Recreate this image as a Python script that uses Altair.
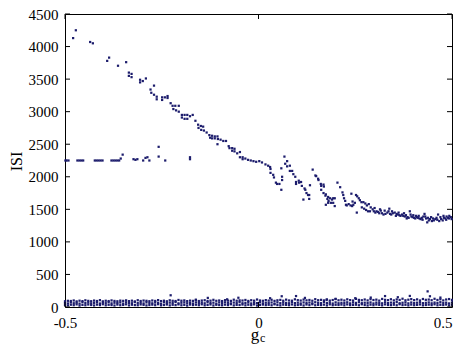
import altair as alt
import pandas as pd
import numpy as np

# ---- data ----
upper_branch = [
    (-0.479, 4130), (-0.472, 4250), (-0.435, 4070), (-0.428, 4050),
    (-0.391, 3780), (-0.386, 3830), (-0.363, 3705), (-0.342, 3760),
    (-0.335, 3600), (-0.328, 3580), (-0.335, 3550), (-0.328, 3530),
    (-0.306, 3490), (-0.299, 3470), (-0.291, 3510), (-0.306, 3450),
    (-0.270, 3400), (-0.279, 3340), (-0.277, 3290), (-0.270, 3260),
    (-0.263, 3230), (-0.263, 3190), (-0.249, 3220), (-0.242, 3220),
    (-0.235, 3240), (-0.235, 3210), (-0.249, 3180), (-0.227, 3130),
    (-0.222, 3090), (-0.215, 3090), (-0.206, 3090), (-0.220, 3040),
    (-0.213, 3020), (-0.206, 3000), (-0.198, 2950), (-0.191, 2950),
    (-0.184, 2950), (-0.170, 2950), (-0.198, 2910), (-0.191, 2890),
    (-0.184, 2890), (-0.177, 2930), (-0.163, 2860), (-0.156, 2800),
    (-0.149, 2780), (-0.143, 2770), (-0.155, 2750), (-0.148, 2720),
    (-0.141, 2710), (-0.134, 2680), (-0.127, 2640), (-0.120, 2630),
    (-0.113, 2620), (-0.106, 2620), (-0.125, 2600), (-0.120, 2590),
    (-0.113, 2590), (-0.105, 2580), (-0.106, 2500), (-0.098, 2570),
    (-0.091, 2550), (-0.084, 2550), (-0.077, 2470), (-0.075, 2440),
    (-0.068, 2440), (-0.062, 2430), (-0.068, 2400), (-0.062, 2390),
    (-0.055, 2360), (-0.048, 2380), (-0.048, 2300), (-0.041, 2300),
    (-0.041, 2270), (-0.034, 2280), (-0.027, 2260), (-0.020, 2250),
    (-0.013, 2240), (-0.006, 2230), (0.002, 2240), (0.009, 2220),
    (0.018, 2190), (0.025, 2170), (0.030, 2150), (0.031, 2120),
    (0.031, 2060), (0.038, 2030), (0.040, 1990), (0.045, 1910),
    (0.048, 1890), (0.054, 1890), (0.059, 1800), (0.061, 1950),
    (0.061, 2000), (0.059, 2130), (0.067, 2310), (0.074, 2240),
    (0.069, 2200), (0.074, 2160), (0.081, 2170), (0.081, 2090),
    (0.087, 2090), (0.090, 2040), (0.095, 2000), (0.097, 1920),
    (0.097, 1890), (0.104, 1940), (0.110, 1920), (0.105, 1910),
    (0.112, 1860), (0.119, 1820), (0.121, 1800), (0.116, 1650),
    (0.124, 1750), (0.128, 1720), (0.131, 1720), (0.133, 1870),
    (0.131, 1660), (0.140, 2110), (0.147, 2020), (0.149, 2010),
    (0.154, 1970), (0.155, 1950), (0.161, 1890), (0.162, 1860),
    (0.168, 1880), (0.169, 1850), (0.162, 1800), (0.168, 1750),
    (0.174, 1730), (0.178, 1660), (0.180, 1600), (0.173, 1710),
    (0.180, 1690), (0.185, 1670), (0.190, 1650), (0.193, 1670),
    (0.197, 1670), (0.181, 1630), (0.187, 1600), (0.193, 1600),
    (0.197, 1550), (0.174, 1570), (0.204, 1910), (0.211, 1840),
    (0.217, 1760), (0.219, 1720), (0.221, 1670), (0.224, 1630),
    (0.226, 1570), (0.233, 1580), (0.238, 1560), (0.242, 1550),
    (0.245, 1570), (0.243, 1620), (0.249, 1600), (0.240, 1740),
    (0.252, 1720), (0.255, 1700), (0.259, 1670), (0.262, 1640),
    (0.266, 1610), (0.254, 1450), (0.228, 1560), (0.267, 1530),
    (0.271, 1610), (0.276, 1590), (0.280, 1560), (0.285, 1580),
    (0.273, 1510), (0.278, 1490), (0.283, 1470), (0.288, 1470),
    (0.290, 1530), (0.295, 1500), (0.298, 1470), (0.302, 1450),
    (0.305, 1470), (0.309, 1460), (0.312, 1440), (0.316, 1480),
    (0.319, 1440), (0.323, 1420), (0.328, 1430), (0.333, 1450),
    (0.336, 1470), (0.338, 1510), (0.340, 1430), (0.343, 1420),
    (0.347, 1440), (0.352, 1450), (0.357, 1430), (0.360, 1420),
    (0.364, 1410), (0.367, 1400), (0.371, 1420), (0.374, 1400),
    (0.378, 1390), (0.381, 1410), (0.385, 1380), (0.388, 1370),
    (0.391, 1470), (0.395, 1390), (0.398, 1380), (0.402, 1370),
    (0.405, 1360), (0.409, 1380), (0.412, 1370), (0.416, 1360),
    (0.419, 1350), (0.422, 1370), (0.426, 1390), (0.429, 1430),
    (0.433, 1360), (0.436, 1300), (0.440, 1330), (0.443, 1350),
    (0.448, 1320), (0.453, 1330), (0.457, 1350), (0.460, 1370),
    (0.464, 1420), (0.467, 1320), (0.472, 1350), (0.476, 1330),
    (0.479, 1370), (0.483, 1360), (0.486, 1390), (0.490, 1370),
    (0.493, 1400), (0.497, 1380),
    (0.300, 1520), (0.314, 1500), (0.326, 1480), (0.345, 1470),
    (0.355, 1400), (0.362, 1450), (0.376, 1440), (0.383, 1360),
    (0.393, 1420), (0.400, 1410), (0.407, 1400), (0.414, 1400),
    (0.424, 1340), (0.431, 1390), (0.438, 1370), (0.446, 1380),
    (0.451, 1360), (0.462, 1340), (0.470, 1380), (0.478, 1400),
    (0.485, 1340), (0.492, 1360), (0.499, 1350),
]

flat_branch = [
    (-0.499, 2250), (-0.496, 2250), (-0.491, 2250),
    (-0.468, 2250), (-0.463, 2250), (-0.458, 2250), (-0.453, 2250),
    (-0.423, 2250), (-0.418, 2250), (-0.413, 2250), (-0.408, 2250), (-0.403, 2250),
    (-0.380, 2250), (-0.375, 2250), (-0.370, 2250), (-0.365, 2250), (-0.360, 2250),
    (-0.356, 2280), (-0.351, 2340),
    (-0.323, 2270), (-0.318, 2260), (-0.313, 2270),
    (-0.298, 2250), (-0.292, 2290), (-0.287, 2300), (-0.282, 2250),
    (-0.258, 2460), (-0.258, 2310), (-0.241, 2250),
    (-0.177, 2270), (-0.177, 2300),
]

band_low = [
    30, 25, 35, 28, 40, 22, 33, 27, 38, 31, 24, 36, 29, 42, 26, 34, 30, 23, 37, 28,
    32, 41, 25, 35, 29, 27, 39, 33, 24, 30, 36, 28, 43, 26, 31, 38, 25, 34, 29, 40,
    27, 33, 22, 37, 30, 35, 28, 41, 26, 32, 39, 24, 34, 30, 27, 36, 29, 42, 25, 33,
    31, 38, 26, 35, 28, 40, 23, 32, 37, 29, 34, 27, 41, 30, 25, 36, 33, 28, 39, 26,
    31, 35, 24, 38, 29, 42, 27, 33, 30, 36, 25, 40, 28, 34, 31, 37, 26, 39, 29, 32,
    35, 27, 41, 30, 24, 36, 28, 38, 33, 26, 40, 31, 29, 35, 27, 42, 30, 34, 25, 37,
    28, 33, 39, 26, 31, 36, 29, 41, 27, 34, 30, 38, 25, 35,
]
band_mid = [
    62, 55, 70, 58, 66, 52, 74, 60, 68, 57, 64, 71, 54, 67, 59, 73, 56, 65, 61, 69,
    53, 72, 63, 58, 75, 60, 66, 55, 70, 62, 57, 68, 64, 51, 73, 59, 67, 61, 76, 56,
    65, 70, 58, 63, 54, 71, 60, 67, 57, 74, 62, 66, 53, 69, 59, 72, 64, 56, 68, 61,
    75, 58, 63, 70, 55, 66, 60, 73, 57, 65, 62, 69, 54, 71, 59, 67, 63, 58, 74, 60,
    66, 55, 70, 61, 68, 57, 73, 64, 59, 76, 62, 67, 54, 71, 58, 65, 60, 72, 56, 69,
    63, 74, 59, 66, 61, 70, 55, 68, 64, 57, 73, 60, 67, 62, 75, 58, 65, 71, 56, 69,
    61, 66, 72, 59, 64, 70, 57, 68, 63, 74, 60, 67, 55, 71,
]
band_high = [
    88, 95, 92, 100, 86, 97, 90, 103, 94, 89, 99, 92, 105, 87, 96, 91, 101, 93, 88, 98,
    94, 102, 90, 97, 86, 104, 92, 99, 95, 89, 100, 93, 106, 91, 97, 88, 103, 95, 92, 108,
    96, 101, 90, 98, 94, 107, 92, 99, 104, 93, 97, 110, 95, 100, 91, 105, 98, 94, 112, 96,
    102, 99, 108, 93, 104, 97, 115, 100, 95, 106, 98, 111, 94, 103, 109, 96, 113, 100, 97, 118,
    105, 99, 114, 102, 108, 96, 120, 104, 110, 101, 116, 98, 107, 122, 103, 112, 100, 118, 106, 99,
    125, 109, 104, 115, 101, 120, 107, 113, 98, 124, 110, 105, 119, 102, 116, 108, 127, 103, 112, 121,
    106, 117, 100, 123, 110, 114, 104, 126, 108, 119, 101, 115, 122, 109,
]
# sweep grid of the coupling parameter used by the low band
band_x = np.linspace(-0.5, 0.5, len(band_low))

low_spikes = [
    (-0.227, 180), (-0.162, 112), (-0.131, 140), (-0.081, 118), (-0.052, 142),
    (0.030, 135), (0.060, 165), (0.097, 168), (0.120, 140), (0.176, 110),
    (0.199, 125), (0.250, 135), (0.290, 145), (0.327, 168), (0.360, 150),
    (0.391, 170), (0.437, 240), (0.443, 165), (0.470, 145),
]

y_ticks = [0, 500, 1000, 1500, 2000, 2500, 3000, 3500, 4000, 4500]
x_ticks = [-0.5, 0, 0.5]

# ---- assemble ----
rows = [{"g": x, "isi": y} for x, y in upper_branch]
rows += [{"g": x, "isi": y} for x, y in flat_branch]
for arr in (band_low, band_mid, band_high):
    rows += [{"g": float(x), "isi": y} for x, y in zip(band_x, arr)]
rows += [{"g": x, "isi": y} for x, y in low_spikes]
df = pd.DataFrame(rows)

W, H = 387, 293
FONT = "Liberation Serif"
COLOR = "#1c1c6c"

xscale = alt.Scale(domain=[-0.5, 0.5], nice=False, zero=False)
yscale = alt.Scale(domain=[0, 4500], nice=False)

xaxis = alt.Axis(values=x_ticks, ticks=False, domain=False, grid=False,
                 labelPadding=8, labelFontSize=15, labelFont=FONT,
                 labelColor="black", labelFlush=False, labelOverlap=False,
                 labelAlign={"expr": "datum.value >= 0.5 ? 'right' : 'center'"},
                 labelExpr="datum.value < 0 ? '-' + format(-datum.value, '~g') : format(datum.value, '~g')",
                 title=None)
yaxis = alt.Axis(values=y_ticks, ticks=False, domain=False, grid=False,
                 labelPadding=7, labelFontSize=15, labelFont=FONT,
                 labelColor="black", format="d",
                 labelFlush=False, labelOverlap=False,
                 title="ISI", titleFont=FONT, titleFontSize=16,
                 titleFontWeight="normal", titleColor="black",
                 titleX=-41, titleY=147)

points = alt.Chart(df).mark_square(size=5, color=COLOR, opacity=1).encode(
    x=alt.X("g:Q", scale=xscale, axis=xaxis),
    y=alt.Y("isi:Q", scale=yscale, axis=yaxis),
)

ydf = pd.DataFrame({"isi": y_ticks})
xdf = pd.DataFrame({"g": x_ticks})

ytick_left = alt.Chart(ydf).mark_rule(color="black", strokeWidth=1).encode(
    y=alt.Y("isi:Q", scale=yscale, axis=yaxis), x=alt.value(0), x2=alt.value(5))
ytick_right = alt.Chart(ydf).mark_rule(color="black", strokeWidth=1).encode(
    y=alt.Y("isi:Q", scale=yscale, axis=yaxis), x=alt.value(W - 5), x2=alt.value(W))
xtick_bot = alt.Chart(xdf).mark_rule(color="black", strokeWidth=1).encode(
    x=alt.X("g:Q", scale=xscale, axis=xaxis), y=alt.value(H), y2=alt.value(H - 5))
xtick_top = alt.Chart(xdf).mark_rule(color="black", strokeWidth=1).encode(
    x=alt.X("g:Q", scale=xscale, axis=xaxis), y=alt.value(0), y2=alt.value(5))

title_g = alt.Chart(pd.DataFrame({"t": ["g"]})).mark_text(
    font=FONT, fontSize=17, color="black", baseline="alphabetic", align="center"
).encode(text="t:N", x=alt.value(190), y=alt.value(326))
title_c = alt.Chart(pd.DataFrame({"t": ["c"]})).mark_text(
    font=FONT, fontSize=12, color="black", baseline="alphabetic", align="left"
).encode(text="t:N", x=alt.value(195), y=alt.value(328))

chart = alt.layer(
    points, ytick_left, ytick_right, xtick_bot, xtick_top, title_g, title_c
).properties(
    width=W, height=H,
    autosize=alt.AutoSizeParams(type="none"),
    padding={"left": 57, "top": 6, "right": 1, "bottom": 38},
).configure_view(stroke="black", strokeWidth=1)

chart.save("out.html", embed_options={"renderer": "svg", "actions": False})
